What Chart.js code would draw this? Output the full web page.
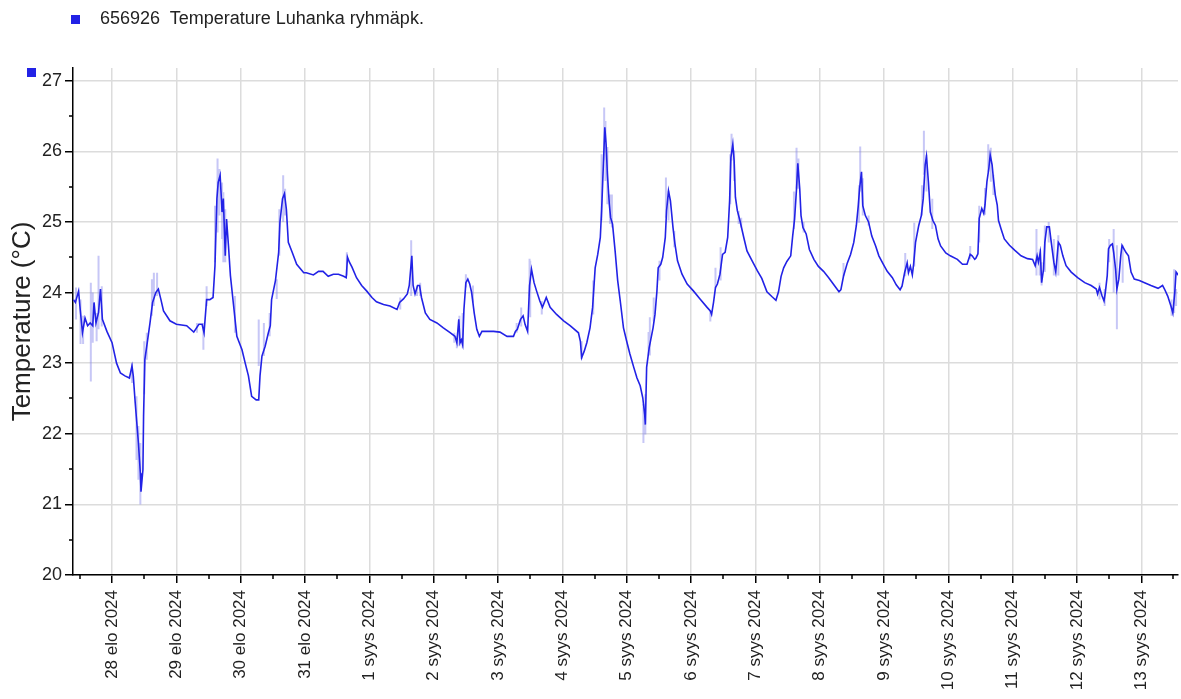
<!DOCTYPE html>
<html>
<head>
<meta charset="utf-8">
<script src="https://cdn.jsdelivr.net/npm/chart.js@4.4.1/dist/chart.umd.min.js"></script>
<style>
  html, body { margin: 0; padding: 0; background: #fff; }
  #wrap { position: relative; width: 1181px; height: 699px; overflow: hidden; }
  #chart { position: absolute; left: 0; top: 0; }
  .legend { position: absolute; left: 0; top: 0; font-family: "Liberation Sans", Arial, sans-serif; color: #222; }
  .sq { position: absolute; width: 9px; height: 9px; background: #2222e6; }
  .ltext { position: absolute; left: 100px; top: 8px; font-size: 18px; line-height: 20px; white-space: pre; }
</style>
</head>
<body>
<div id="wrap">
  <canvas id="chart" width="1181" height="699"></canvas>
  <div class="legend">
    <div class="sq" style="left:71px;top:15px;"></div>
    <div class="ltext">656926  Temperature Luhanka ryhmäpk.</div>
    <div class="sq" style="left:27px;top:68px;"></div>
  </div>
</div>
<script>
// Day ticks (x value = days since 28 Aug 2024 00:00)
const dayTickValues = [0,1,2,3,4,5,6,7,8,9,10,11,12,13,14,15,16];
const dayTickLabels = ['28 elo 2024','29 elo 2024','30 elo 2024','31 elo 2024','1 syys 2024','2 syys 2024','3 syys 2024','4 syys 2024','5 syys 2024','6 syys 2024','7 syys 2024','8 syys 2024','9 syys 2024','10 syys 2024','11 syys 2024','12 syys 2024','13 syys 2024'];
const tempTickValues = [20,21,22,23,24,25,26,27];

const seriesLabel = '656926  Temperature Luhanka ryhmäpk.';

// Main temperature series (days since 28 Aug 00:00, °C)
const timeDays = [
-0.60,-0.57,-0.52,-0.50,-0.46,-0.42,-0.38,-0.34,-0.30,-0.28,-0.25,-0.21,-0.18,-0.15,-0.08,
0.00,0.07,0.13,0.20,0.27,0.31,0.33,0.36,0.41,0.44,0.45,0.48,0.49,0.51,0.55,0.59,0.63,0.68,0.72,0.76,0.80,0.90,
1.00,1.16,1.27,1.35,1.40,1.43,1.47,1.52,1.57,1.60,1.63,1.65,1.68,1.71,1.73,1.76,1.78,1.81,1.84,1.89,1.94,
2.02,2.07,2.12,2.17,2.24,2.28,2.30,2.33,2.38,2.43,2.46,2.48,2.54,2.59,2.61,2.65,2.68,2.71,2.74,2.80,2.87,2.98,
3.02,3.13,3.21,3.28,3.36,3.44,3.52,3.60,3.64,3.66,3.69,3.73,3.80,3.88,3.96,
4.04,4.11,4.22,4.32,4.43,4.47,4.53,4.59,4.62,4.66,4.68,4.71,4.75,4.78,4.81,4.87,4.94,
5.05,5.15,5.26,5.33,5.36,5.39,5.41,5.43,5.45,5.47,5.50,5.53,5.56,5.59,5.63,5.67,5.71,5.75,5.83,5.93,
6.03,6.14,6.24,6.27,6.30,6.35,6.39,6.42,6.46,6.49,6.52,6.56,6.60,6.65,6.69,6.75,6.81,6.91,
7.02,7.12,7.25,7.28,7.30,7.34,7.38,7.43,7.47,7.51,7.55,7.59,7.61,7.64,7.66,7.68,7.70,7.73,7.75,7.78,7.82,7.86,7.90,7.95,
8.00,8.05,8.11,8.16,8.21,8.25,8.28,8.29,8.31,8.35,8.41,8.44,8.47,8.49,8.53,8.56,8.60,8.62,8.65,8.68,8.72,8.75,8.79,8.86,8.94,
9.04,9.14,9.25,9.30,9.32,9.35,9.38,9.41,9.45,9.49,9.53,9.57,9.60,9.62,9.65,9.67,9.69,9.72,9.76,9.82,9.87,9.95,
10.03,10.10,10.18,10.26,10.32,10.36,10.40,10.44,10.49,10.55,10.58,10.61,10.64,10.66,10.69,10.71,10.74,10.79,10.84,10.91,10.98,
11.06,11.14,11.22,11.30,11.33,11.37,11.43,11.48,11.53,11.57,11.60,11.62,11.65,11.67,11.71,11.76,11.81,11.87,11.92,11.99,
12.05,12.13,12.19,12.25,12.28,12.32,12.36,12.38,12.41,12.44,12.46,12.49,12.54,12.58,12.61,12.64,12.66,12.69,12.72,12.76,12.80,12.84,12.88,12.96,
13.03,13.14,13.22,13.29,13.34,13.37,13.41,13.43,13.46,13.48,13.52,13.55,13.57,13.60,13.63,13.65,13.68,13.70,13.73,13.76,13.78,13.82,13.87,13.95,
14.03,14.13,14.23,14.31,14.35,14.38,14.40,14.43,14.45,14.48,14.50,14.53,14.57,14.60,14.64,14.67,14.71,14.74,14.78,14.83,14.91,
15.01,15.12,15.22,15.30,15.32,15.35,15.39,15.42,15.44,15.47,15.49,15.52,15.55,15.57,15.60,15.62,15.65,15.68,15.70,15.73,15.76,15.80,15.84,15.89,15.97,
16.05,16.15,16.26,16.33,16.36,16.41,16.46,16.49,16.52,16.54,16.58
];
const tempC = [
23.90,23.86,24.02,23.81,23.43,23.64,23.53,23.57,23.53,23.86,23.57,23.72,24.05,23.62,23.45,
23.29,23.00,22.86,22.82,22.79,22.96,22.82,22.44,21.87,21.44,21.18,21.49,22.25,23.05,23.31,23.57,23.86,24.00,24.05,23.90,23.74,23.60,
23.55,23.53,23.44,23.55,23.55,23.43,23.90,23.90,23.93,24.38,25.33,25.56,25.66,25.14,25.33,24.52,25.04,24.66,24.24,23.81,23.38,
23.19,23.00,22.82,22.53,22.48,22.48,22.82,23.10,23.24,23.43,23.53,23.90,24.17,24.57,25.00,25.33,25.40,25.18,24.71,24.57,24.40,24.28,
24.28,24.25,24.30,24.30,24.23,24.26,24.26,24.23,24.21,24.50,24.43,24.36,24.21,24.10,24.02,
23.93,23.87,23.83,23.81,23.76,23.86,23.91,23.98,24.10,24.52,24.10,23.98,24.10,24.10,23.93,23.71,23.62,
23.57,23.50,23.43,23.38,23.29,23.62,23.29,23.33,23.26,23.76,24.14,24.19,24.12,24.00,23.71,23.48,23.38,23.45,23.45,23.45,
23.44,23.38,23.38,23.45,23.48,23.62,23.67,23.55,23.45,24.10,24.33,24.14,24.02,23.88,23.79,23.93,23.79,23.69,
23.60,23.53,23.43,23.31,23.08,23.17,23.29,23.50,23.79,24.35,24.54,24.78,25.16,25.87,26.34,26.10,25.68,25.25,25.06,24.97,24.59,24.17,23.88,23.50,
23.31,23.13,22.94,22.79,22.68,22.51,22.27,22.13,22.94,23.22,23.50,23.69,24.02,24.35,24.40,24.50,24.78,25.16,25.44,25.30,24.92,24.69,24.45,24.26,24.12,
24.02,23.91,23.79,23.74,23.69,23.86,24.07,24.12,24.26,24.54,24.57,24.78,25.30,25.91,26.10,25.87,25.35,25.16,25.02,24.78,24.59,24.45,
24.31,24.20,24.01,23.94,23.89,24.01,24.23,24.35,24.44,24.52,24.80,25.04,25.47,25.83,25.47,25.09,24.92,24.83,24.61,24.47,24.37,
24.30,24.21,24.11,24.01,24.04,24.23,24.42,24.54,24.71,24.95,25.23,25.47,25.71,25.23,25.09,25.00,24.80,24.66,24.52,24.40,
24.30,24.21,24.11,24.04,24.09,24.28,24.42,24.28,24.37,24.25,24.40,24.71,24.95,25.09,25.33,25.81,25.93,25.57,25.14,25.02,24.95,24.76,24.66,24.56,
24.52,24.47,24.40,24.40,24.54,24.52,24.47,24.49,24.55,25.05,25.19,25.12,25.24,25.57,25.76,25.95,25.81,25.62,25.38,25.24,25.02,24.90,24.76,24.67,
24.60,24.52,24.48,24.47,24.38,24.52,24.43,24.57,24.14,24.33,24.71,24.93,24.93,24.71,24.43,24.29,24.71,24.67,24.52,24.38,24.29,
24.21,24.14,24.10,24.05,23.98,24.07,23.95,23.88,24.00,24.24,24.62,24.67,24.69,24.57,24.33,24.05,24.19,24.52,24.67,24.62,24.57,24.52,24.29,24.19,24.17,
24.14,24.10,24.06,24.10,24.05,23.95,23.81,23.71,24.00,24.29,24.24
];

// Min/max envelope (light spikes): day, low, high
const spikeDays = [
-0.56,-0.49,-0.45,-0.33,-0.30,-0.24,-0.21,-0.16,0.31,0.38,0.41,0.44,0.50,0.54,0.62,0.65,0.70,
1.32,1.42,1.47,1.60,1.64,1.67,1.71,1.73,1.76,1.91,2.28,2.36,2.45,2.56,2.60,2.66,2.69,
3.65,4.48,4.65,4.74,4.79,5.32,5.36,5.40,5.45,5.50,5.61,6.29,6.36,6.49,
6.50,6.68,7.30,7.48,7.61,7.65,7.67,7.70,7.74,7.77,8.26,8.29,8.34,8.36,8.42,8.51,8.61,8.65,8.74,
9.30,9.38,9.46,9.61,9.63,9.67,9.74,9.78,
10.60,10.64,10.67,10.75,11.37,11.61,11.63,11.67,11.76,12.33,12.47,12.59,12.62,12.66,12.75,13.34,13.48,
13.57,13.62,13.66,13.70,14.37,14.42,14.45,14.50,14.56,14.64,14.71,15.35,15.43,15.50,15.57,15.62,15.71,16.47,16.51,16.54
];
const spikeLow = [
23.62,23.27,23.27,22.74,23.29,23.31,23.48,23.52,22.72,21.63,21.35,21.00,22.56,23.05,23.67,23.81,23.95,
23.43,23.19,23.81,24.43,24.85,25.09,24.76,24.43,24.43,23.43,22.96,23.10,23.38,23.91,24.52,25.00,25.09,
24.24,23.76,23.95,23.95,23.95,23.29,23.21,23.24,23.21,24.07,23.86,23.43,23.52,23.95,
23.65,23.69,23.06,23.69,25.02,25.87,25.58,25.25,24.97,24.92,21.87,21.99,23.11,23.11,23.59,24.17,25.06,25.02,24.64,
23.59,24.07,24.17,25.25,25.87,25.58,24.97,24.92,
24.90,25.47,25.47,24.85,24.23,24.99,25.43,25.09,24.95,24.23,24.37,25.09,25.67,25.43,24.90,24.47,24.71,
25.10,25.71,25.57,25.38,24.24,24.24,24.10,24.29,24.71,24.24,24.24,23.90,23.81,24.43,24.00,23.48,24.14,23.67,23.71,23.81
];
const spikeHigh = [
24.07,23.90,23.67,24.14,24.00,23.71,24.52,24.09,23.00,22.53,22.11,21.87,23.31,23.43,24.19,24.28,24.28,
23.57,23.57,24.09,25.23,25.90,25.75,25.56,25.42,25.18,23.95,23.62,23.57,23.71,24.19,25.18,25.66,25.47,
24.57,23.93,24.74,24.10,24.14,23.43,23.38,23.67,23.71,24.26,24.10,23.57,23.79,24.48,
24.45,23.88,23.31,24.17,25.96,26.62,26.43,26.06,25.39,25.39,22.42,22.56,23.44,23.65,23.93,24.45,25.63,25.44,24.87,
23.74,24.35,24.64,25.96,26.25,26.01,25.16,25.06,
25.43,26.05,25.90,25.00,24.42,25.52,26.07,25.62,25.09,24.56,24.99,25.52,26.29,25.95,25.33,24.66,25.23,
25.48,26.10,26.05,25.67,24.90,24.62,24.43,24.95,25.00,24.76,24.81,24.14,24.05,24.76,24.90,24.67,24.67,23.90,24.33,24.05
];

const FONT = '"Liberation Sans", Arial, sans-serif';
const LINE_COLOR = '#2222e6';

const mainData = timeDays.map((d, i) => ({ x: d, y: tempC[i] }));
const envData = [];
spikeDays.forEach((d, i) => {
  envData.push({ x: d, y: spikeLow[i] });
  envData.push({ x: d, y: spikeHigh[i] });
  envData.push({ x: d, y: null });
});

const minorTicks = {
  id: 'minorTicks',
  afterDraw(chart) {
    const { ctx, scales: { x, y }, chartArea: a } = chart;
    ctx.save();
    ctx.strokeStyle = '#000';
    ctx.lineWidth = 1.5;
    ctx.beginPath();
    for (let v = Math.ceil(x.min * 2) / 2; v <= x.max; v += 0.5) {
      if (Math.abs(v - Math.round(v)) < 1e-6) continue;
      const px = Math.round(x.getPixelForValue(v));
      ctx.moveTo(px, a.bottom);
      ctx.lineTo(px, a.bottom + 4);
    }
    for (let v = Math.ceil(y.min * 2) / 2; v <= y.max; v += 0.5) {
      if (Math.abs(v - Math.round(v)) < 1e-6) continue;
      const py = Math.round(y.getPixelForValue(v));
      ctx.moveTo(a.left - 4, py);
      ctx.lineTo(a.left, py);
    }
    ctx.stroke();
    ctx.restore();
  }
};

new Chart(document.getElementById('chart'), {
  type: 'line',
  data: {
    datasets: [
      {
        label: seriesLabel,
        data: mainData,
        borderColor: LINE_COLOR,
        borderWidth: 1.6,
        pointRadius: 0,
        tension: 0,
        order: 1
      },
      {
        label: 'envelope',
        data: envData,
        borderColor: 'rgba(130,130,235,0.45)',
        borderWidth: 2,
        pointRadius: 0,
        spanGaps: false,
        order: 2
      }
    ]
  },
  options: {
    responsive: false,
    animation: false,
    devicePixelRatio: 1,
    layout: { padding: { top: 68, right: 3, left: 0, bottom: 0 } },
    plugins: { legend: { display: false }, tooltip: { enabled: false } },
    scales: {
      x: {
        type: 'linear',
        min: -0.607,
        max: 16.57,
        offset: false,
        afterFit(scale) { scale.height = 124; },
        afterBuildTicks(scale) { scale.ticks = dayTickValues.map(v => ({ value: v })); },
        grid: { color: '#dcdcdc', lineWidth: 1.5, tickColor: '#000', tickLength: 8, tickWidth: 1.5, offset: false },
        border: { color: '#000', width: 1.5 },
        ticks: {
          autoSkip: false,
          minRotation: 90,
          maxRotation: 90,
          padding: 7,
          color: '#222',
          font: { family: FONT, size: 17 },
          callback: (v, i) => dayTickLabels[i]
        }
      },
      y: {
        min: 20,
        max: 27.18,
        afterFit(scale) { scale.width = 73; },
        afterBuildTicks(scale) { scale.ticks = tempTickValues.map(v => ({ value: v })); },
        grid: { color: '#dcdcdc', lineWidth: 1.5, tickColor: '#000', tickLength: 8, tickWidth: 1.5 },
        border: { color: '#000', width: 1.5 },
        ticks: {
          padding: 3,
          color: '#222',
          font: { family: FONT, size: 18 },
          callback: (v) => String(v)
        },
        title: {
          display: true,
          text: 'Temperature (°C)',
          color: '#222',
          font: { family: FONT, size: 26, lineHeight: 1.2 },
          padding: { top: 7, bottom: 0 }
        }
      }
    }
  },
  plugins: [minorTicks]
});
</script>
</body>
</html>
